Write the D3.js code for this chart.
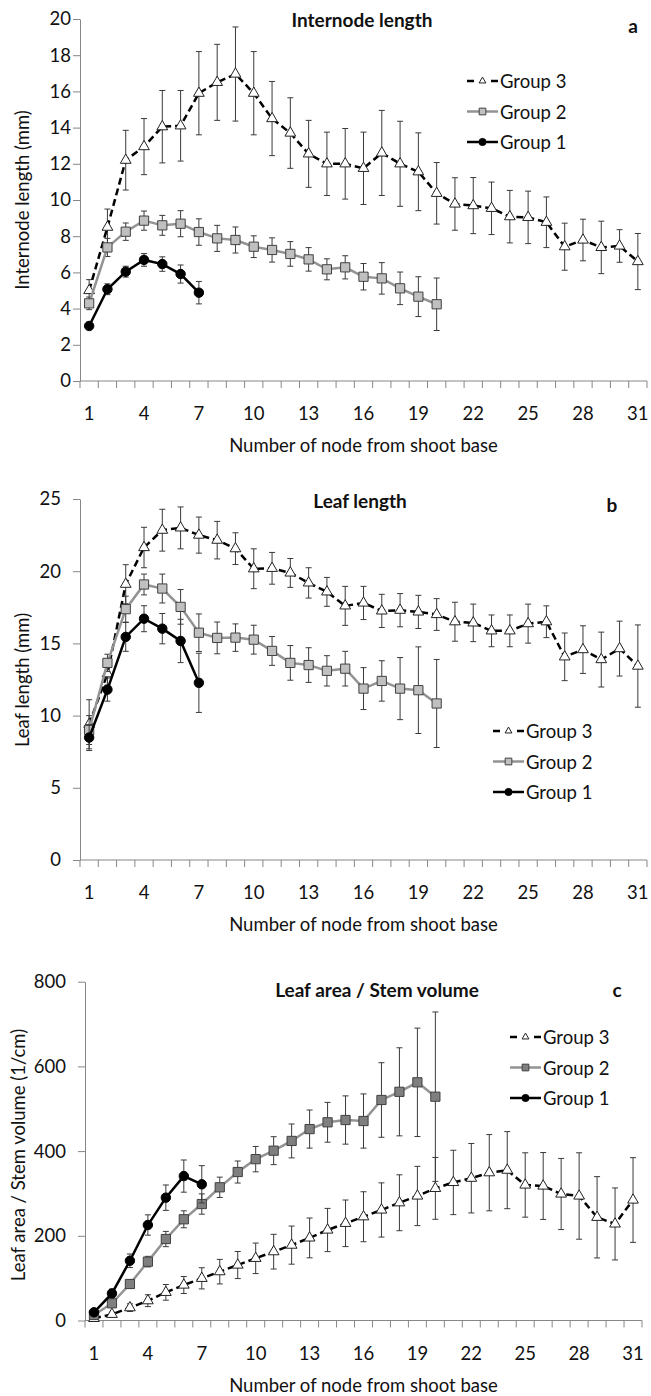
<!DOCTYPE html>
<html>
<head>
<meta charset="utf-8">
<script src="https://cdn.jsdelivr.net/npm/d3@7"></script>
<style>
  body { margin: 0; background: #fff; }
  svg text { font-family: Lato, "Open Sans", sans-serif; fill: #111; }
</style>
</head>
<body>
<div id="chart"></div>
<script>
// node number from shoot base (x categories)
const nodes = [1,2,3,4,5,6,7,8,9,10,11,12,13,14,15,16,17,18,19,20,21,22,23,24,25,26,27,28,29,30,31];
const xTickLabels = [1,4,7,10,13,16,19,22,25,28,31];

// a - internode length (mm)
const internode3 = [5.0,8.5,12.2,12.95,14.05,14.1,15.9,16.5,16.96,15.9,14.5,13.7,12.55,12.0,12.0,11.75,12.6,12.0,11.56,10.37,9.78,9.69,9.54,9.08,9.04,8.77,7.42,7.79,7.38,7.46,6.6];
const internode3Err = [0.6,1.0,1.65,1.55,2.0,1.95,2.3,2.1,2.6,2.3,2.05,1.95,1.85,1.75,1.95,2.0,2.35,2.35,2.15,1.7,1.45,1.55,1.45,1.45,1.45,1.4,1.3,1.15,1.45,0.9,1.55];
const internode2 = [4.29,7.38,8.25,8.86,8.6,8.69,8.23,7.88,7.79,7.42,7.24,7.02,6.72,6.17,6.28,5.76,5.67,5.12,4.66,4.24];
const internode2Err = [0.35,0.5,0.48,0.53,0.55,0.72,0.73,0.72,0.72,0.6,0.67,0.68,0.65,0.58,0.64,0.73,0.87,0.9,1.1,1.45];
const internode1 = [3.04,5.07,6.04,6.69,6.46,5.91,4.88];
const internode1Err = [0.2,0.3,0.3,0.35,0.4,0.5,0.62];
const internodeTicks = [0,2,4,6,8,10,12,14,16,18,20];

// b - leaf length (mm)
const leaf3 = [9.4,12.9,19.1,21.64,22.84,23.0,22.5,22.15,21.56,20.17,20.2,19.88,19.19,18.57,17.6,17.8,17.25,17.3,17.18,17.0,16.5,16.42,15.87,15.87,16.37,16.5,14.07,14.57,13.88,14.64,13.43];
const leaf3Err = [1.7,0.8,1.35,1.4,1.45,1.45,1.25,1.3,1.1,1.38,1.1,1.0,1.05,1.0,1.35,1.15,1.15,1.15,1.15,1.1,1.35,1.3,1.1,1.1,1.35,1.1,1.65,1.65,1.9,1.9,2.85];
const leaf2 = [9.0,13.65,17.37,19.08,18.8,17.53,15.74,15.38,15.4,15.26,14.48,13.65,13.5,13.1,13.25,11.87,12.4,11.87,11.76,10.84];
const leaf2Err = [1.0,0.6,0.9,0.72,1.0,1.2,1.3,1.1,0.95,1.0,1.0,1.2,1.2,1.05,1.2,1.45,1.4,2.15,3.0,3.05];
const leaf1 = [8.48,11.8,15.45,16.71,16.02,15.17,12.27];
const leaf1Err = [0.9,0.8,1.0,0.9,1.05,1.5,2.05];
const leafTicks = [0,5,10,15,20,25];

// c - leaf area / stem volume (1/cm)
const ratio3 = [5,14.6,30.3,46.8,66.5,83.8,99.6,115.3,131,146.8,162.5,178,195,213.7,229.5,245,261,278,294,312,326,336,349,355,320,317.6,298.7,294,243.7,228,284.5];
const ratio3Err = [3,5,9,14,18.5,20,25,29,32,36,41,45,47,51,55,59,64,66,70,73,76,82,90,91,76,79,84,102,96,85,100];
const ratio2 = [13,40.6,86.2,139,192.4,239,275,314.5,350.6,381,401,424,452,468,473.4,471,520.7,540,562.4,528.5];
const ratio2Err = [4,8,10,12.5,18,20,24,24,26,30,33,40,45,47,57,64,88,104,128,200];
const ratio1 = [19.3,64,141,225.5,290,341,321.6];
const ratio1Err = [5,10,16,24,30,38,44];
const ratioTicks = [0,200,400,600,800];

const groupNames = ['Group 3', 'Group 2', 'Group 1'];

const fontSize = 18.5;

const svg = d3.select('#chart')
    .append('svg')
    .attr('width', 651)
    .attr('height', 1396);

const panels = [
    { title: 'Internode length', letter: 'a', yLabel: 'Internode length (mm)',
      left: 80, right: 647, top: 19, bottom: 381, yMax: 20, ticks: internodeTicks, pad: 2,
      titleX: 362, titleY: 27, letterX: 633, letterY: 33, yLabelX: 22, yLabelY: 200,
      legendX: 467, legendY: 81, sqFill: '#c0c0c0',
      series: [[internode3, internode3Err], [internode2, internode2Err], [internode1, internode1Err]] },
    { title: 'Leaf length', letter: 'b', yLabel: 'Leaf length (mm)',
      left: 80, right: 647, top: 499, bottom: 860, yMax: 25, ticks: leafTicks, pad: 12,
      titleX: 360, titleY: 508, letterX: 612, letterY: 512, yLabelX: 22, yLabelY: 680,
      legendX: 493, legendY: 731, sqFill: '#c0c0c0',
      series: [[leaf3, leaf3Err], [leaf2, leaf2Err], [leaf1, leaf1Err]] },
    { title: 'Leaf area / Stem volume', letter: 'c', yLabel: 'Leaf area / Stem volume (1/cm)',
      left: 85, right: 642, top: 981.7, bottom: 1320.5, yMax: 800, ticks: ratioTicks, pad: 12,
      titleX: 377, titleY: 997, letterX: 617, letterY: 997, yLabelX: 18, yLabelY: 1155,
      legendX: 510, legendY: 1037, sqFill: '#7f7f7f',
      series: [[ratio3, ratio3Err], [ratio2, ratio2Err], [ratio1, ratio1Err]] }
];

const axisColor = '#878787';
const errColor = '#3a3a3a';

// style for each group: 0 = Group 3, 1 = Group 2, 2 = Group 1
function groupStyle(i, p) {
    if (i === 0) return { stroke: '#000', dash: '7,4', symbol: d3.symbolTriangle, size: 50, legendSize: 20, fill: '#fff', mStroke: '#222' };
    if (i === 1) return { stroke: '#939393', dash: null, symbol: d3.symbolSquare, size: 85, legendSize: 45, fill: p.sqFill, mStroke: '#404040' };
    return { stroke: '#000', dash: null, symbol: d3.symbolCircle, size: 70, legendSize: 40, fill: '#000', mStroke: '#000' };
}

panels.forEach(p => drawPanel(p));

function drawPanel(p) {
    const g = svg.append('g');

    let x = d3.scaleBand()
        .domain(nodes)
        .range([p.left, p.right]);
    let y = d3.scaleLinear()
        .domain([0, p.yMax])
        .range([p.bottom, p.top]);
    const cx = n => x(n) + x.bandwidth() / 2;

    // Y axis
    const yAxis = g.append('g')
        .attr('transform', `translate(${p.left},0)`)
        .call(d3.axisLeft(y).tickValues(p.ticks).tickSize(7).tickPadding(p.pad).tickSizeOuter(0));
    yAxis.selectAll('path, line').attr('stroke', axisColor);
    yAxis.selectAll('text').attr('font-size', fontSize).attr('fill', '#111');

    // X axis: line with tick marks on band edges, labels every third node
    const bounds = nodes.map(n => x(n)).concat([x.range()[1]]);
    g.append('line')
        .attr('x1', p.left).attr('x2', p.right)
        .attr('y1', p.bottom).attr('y2', p.bottom)
        .attr('stroke', axisColor);
    g.selectAll('.xtick')
        .data(bounds)
        .join('line')
        .attr('x1', d => d).attr('x2', d => d)
        .attr('y1', p.bottom).attr('y2', p.bottom + 7)
        .attr('stroke', axisColor);
    g.selectAll('.xlabel')
        .data(xTickLabels)
        .join('text')
        .attr('x', d => cx(d))
        .attr('y', p.bottom + 32)
        .attr('text-anchor', 'middle')
        .attr('dominant-baseline', 'central')
        .attr('font-size', fontSize)
        .text(d => d);

    // axis titles
    g.append('text')
        .attr('x', (p.left + p.right) / 2)
        .attr('y', p.bottom + 64)
        .attr('text-anchor', 'middle')
        .attr('dominant-baseline', 'central')
        .attr('font-size', fontSize)
        .text('Number of node from shoot base');
    g.append('text')
        .attr('transform', `translate(${p.yLabelX},${p.yLabelY}) rotate(-90)`)
        .attr('text-anchor', 'middle')
        .attr('dominant-baseline', 'central')
        .attr('font-size', fontSize)
        .text(p.yLabel);

    // chart title and panel letter
    g.append('text')
        .attr('x', p.titleX).attr('y', p.titleY)
        .attr('text-anchor', 'middle')
        .attr('font-size', 19).attr('font-weight', 'bold')
        .text(p.title);
    g.append('text')
        .attr('x', p.letterX).attr('y', p.letterY)
        .attr('text-anchor', 'middle')
        .attr('font-size', 19).attr('font-weight', 'bold')
        .text(p.letter);

    // series: Group 3 at the back, Group 1 in front
    p.series.forEach(([means, errs], i) => {
        const st = groupStyle(i, p);
        const pts = means.map((v, k) => ({ n: nodes[k], v: v, e: errs[k] }));
        const sg = g.append('g');

        // error bars
        const eb = sg.selectAll('.err').data(pts).join('g');
        eb.append('line')
            .attr('x1', d => cx(d.n)).attr('x2', d => cx(d.n))
            .attr('y1', d => y(d.v - d.e)).attr('y2', d => y(d.v + d.e))
            .attr('stroke', errColor).attr('stroke-width', 1);
        eb.append('line')
            .attr('x1', d => cx(d.n) - 3).attr('x2', d => cx(d.n) + 3)
            .attr('y1', d => y(d.v + d.e)).attr('y2', d => y(d.v + d.e))
            .attr('stroke', errColor).attr('stroke-width', 1);
        eb.append('line')
            .attr('x1', d => cx(d.n) - 3).attr('x2', d => cx(d.n) + 3)
            .attr('y1', d => y(d.v - d.e)).attr('y2', d => y(d.v - d.e))
            .attr('stroke', errColor).attr('stroke-width', 1);

        // line
        sg.append('path')
            .datum(pts)
            .attr('fill', 'none')
            .attr('stroke', st.stroke)
            .attr('stroke-width', 2.5)
            .attr('stroke-dasharray', st.dash)
            .attr('d', d3.line().x(d => cx(d.n)).y(d => y(d.v)));

        // markers
        sg.selectAll('.mk').data(pts).join('path')
            .attr('transform', d => `translate(${cx(d.n)},${y(d.v)})`)
            .attr('d', d3.symbol(st.symbol, st.size))
            .attr('fill', st.fill)
            .attr('stroke', st.mStroke)
            .attr('stroke-width', 1);
    });

    // legend
    groupNames.forEach((name, i) => {
        const st = groupStyle(i, p);
        const ly = p.legendY + i * 30.5;
        const lg = g.append('g').attr('transform', `translate(${p.legendX},${ly})`);
        lg.append('line')
            .attr('x1', 0).attr('x2', 31).attr('y1', 0).attr('y2', 0)
            .attr('stroke', st.stroke).attr('stroke-width', 2.5)
            .attr('stroke-dasharray', i === 0 ? '7,17,7' : null);
        lg.append('path')
            .attr('transform', 'translate(15.5,0)')
            .attr('d', d3.symbol(st.symbol, st.legendSize))
            .attr('fill', st.fill).attr('stroke', st.mStroke).attr('stroke-width', 1);
        lg.append('text')
            .attr('x', 33).attr('y', 0)
            .attr('dominant-baseline', 'central')
            .attr('font-size', fontSize)
            .text(name);
    });
}
</script>
</body>
</html>
